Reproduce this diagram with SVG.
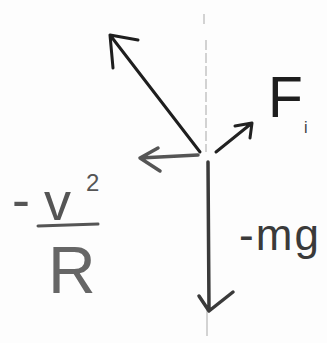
<svg xmlns="http://www.w3.org/2000/svg" width="327" height="343" viewBox="0 0 327 343">
<style>
.ax{stroke:#c4c4c4;stroke-width:1.5;fill:none}
.ar{fill:none;stroke-linecap:round;stroke-linejoin:round}
.t{font-family:"Liberation Sans",Arial,sans-serif}
</style>
<rect width="327" height="343" fill="#fdfdfd"/>
<g id="axis">
<line class="ax" x1="204" y1="14" x2="204" y2="24"/>
<line class="ax" x1="206" y1="40" x2="206" y2="152" stroke-dasharray="10 3"/>
<line class="ax" x1="207" y1="310" x2="207" y2="336" stroke="#999"/>
</g>
<g id="connectors">
<path class="ar" stroke="#1e1e1e" stroke-width="3" d="M200,152 L110,35 M113,68 L110,35 L138,40"/>
<path class="ar" stroke="#555" stroke-width="3.5" d="M198,155 L140,158 M158,148 L140,158 L160,171"/>
<path class="ar" stroke="#222" stroke-width="3" d="M216,152 L252,123 M235,126 L252,123 L250,138"/>
<path class="ar" stroke="#3a3a3a" stroke-width="3.5" d="M208,162 L209,310 M199,296 L209,311 L233,292"/>
</g>
<g id="label-F">
<text class="t" x="268" y="117" font-size="57" fill="#1e1e1e">F</text>
<text class="t" x="304" y="133" font-size="16" fill="#444">i</text>
</g>
<g id="label-mg">
<text class="t" x="239" y="250" font-size="44" fill="#3a3a3a" textLength="80">-mg</text>
</g>
<g id="label-v2R">
<text class="t" x="12" y="218" font-size="54" fill="#555">-</text>
<text class="t" x="44" y="220" font-size="54" fill="#555">v</text>
<text class="t" x="86" y="191" font-size="24" fill="#555">2</text>
<line x1="38" y1="226" x2="98" y2="224" stroke="#555" stroke-width="3" stroke-linecap="round"/>
<text class="t" x="48" y="293" font-size="66" fill="#666">R</text>
</g>
</svg>
